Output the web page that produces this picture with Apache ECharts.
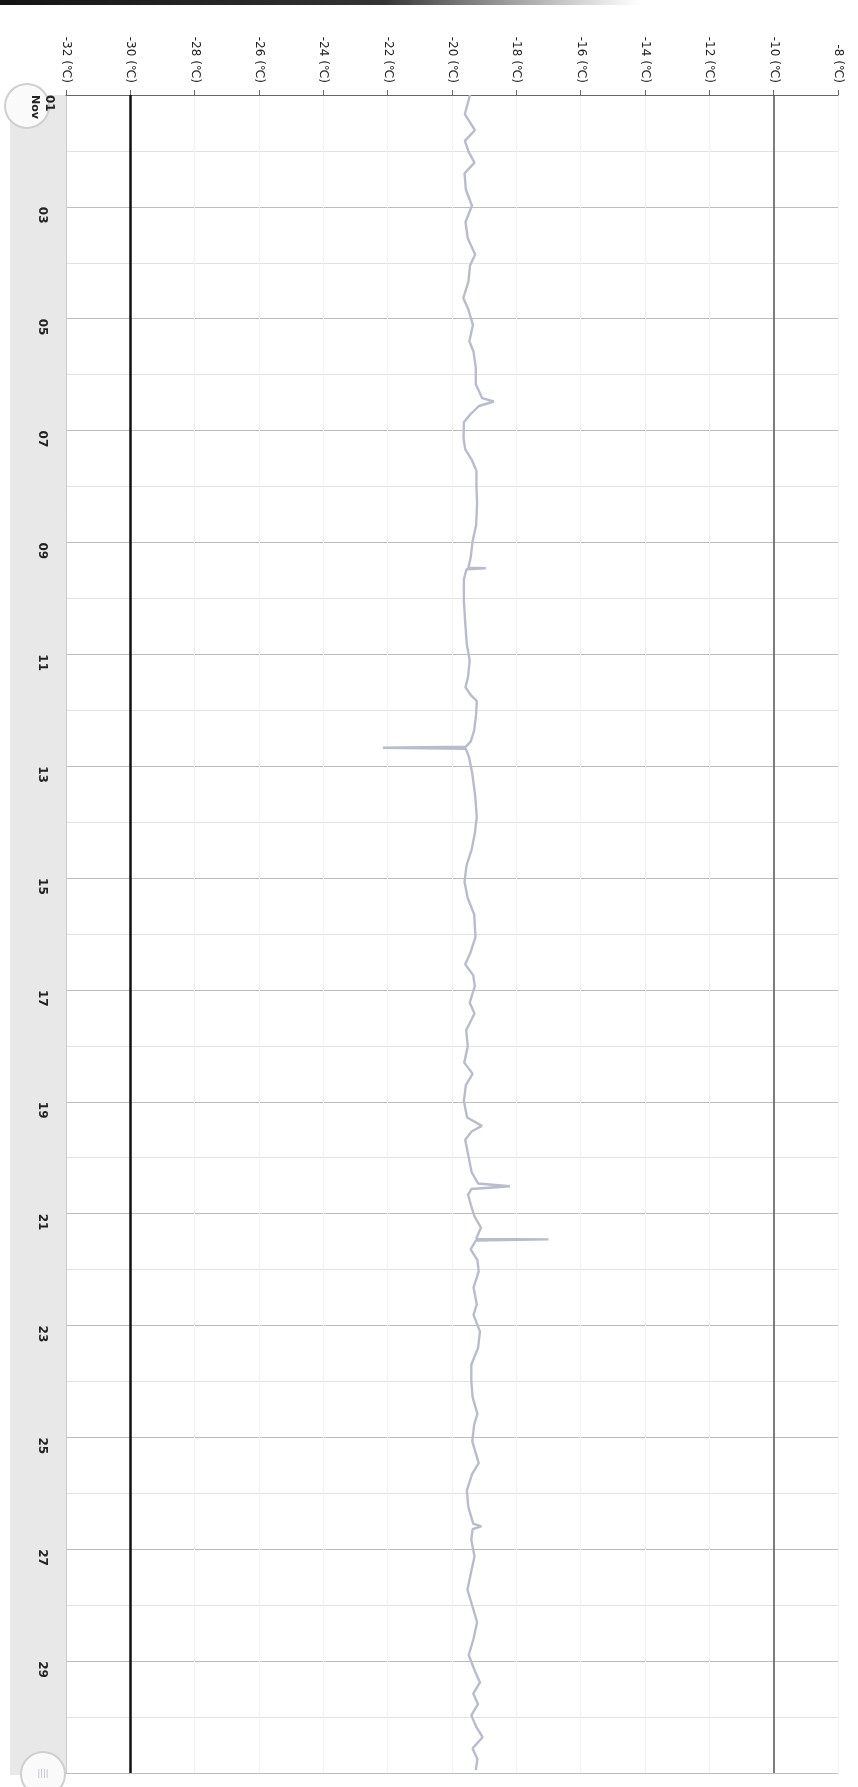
<!DOCTYPE html>
<html>
<head>
<meta charset="utf-8">
<script src="https://cdn.jsdelivr.net/npm/echarts@6/dist/echarts.min.js"></script>
<style>
html,body{margin:0;padding:0;background:#fff;}
#chart{width:858px;height:1787px;}
</style>
</head>
<body>
<div id="chart"></div>
<script>
// Temperature axis
var tempMin = -32, tempMax = -8, tempStep = 2;
var tempUnit = ' (℃)';
// Time axis (day of month, November)
var monthLabel = 'Nov';
var firstDay = 1, lastDay = 31;
// Limit lines
var lowLimit = -30, highLimit = -10;
// Logged series: day of month (fractional) and temperature
var days = [1.00,1.34,1.63,1.82,2.02,2.21,2.40,2.69,2.98,3.27,3.56,3.85,4.05,4.34,4.63,4.82,5.11,5.40,5.59,5.88,
6.17,6.42,6.48,6.56,6.71,6.85,7.14,7.33,7.53,7.72,8.01,8.30,8.69,8.98,9.27,9.45,9.46,9.48,9.66,10.04,
10.43,10.82,11.11,11.40,11.59,11.74,11.83,12.07,12.36,12.56,12.65,12.67,12.69,12.84,13.13,13.52,13.91,14.20,14.49,14.78,
15.07,15.36,15.65,16.05,16.34,16.54,16.74,16.93,17.23,17.42,17.72,18.01,18.30,18.50,18.70,18.99,19.28,19.43,19.53,19.68,
19.97,20.26,20.46,20.51,20.56,20.66,20.85,21.05,21.25,21.45,21.46,21.48,21.64,21.83,22.03,22.32,22.62,22.81,23.11,23.40,
23.70,23.99,24.28,24.58,24.77,25.07,25.46,25.66,25.95,26.25,26.54,26.59,26.64,26.83,27.13,27.42,27.72,28.01,28.30,28.60,
28.89,29.19,29.38,29.58,29.77,29.97,30.17,30.36,30.56,30.75,30.95];
var temps = [-19.44,-19.60,-19.29,-19.60,-19.48,-19.30,-19.61,-19.57,-19.38,-19.58,-19.51,-19.28,-19.44,-19.49,-19.65,-19.50,-19.35,-19.46,-19.33,-19.26,
-19.26,-19.06,-18.70,-19.16,-19.43,-19.63,-19.64,-19.59,-19.38,-19.24,-19.24,-19.22,-19.25,-19.36,-19.42,-19.49,-18.95,-19.55,-19.63,-19.63,
-19.59,-19.54,-19.45,-19.50,-19.58,-19.40,-19.23,-19.25,-19.31,-19.42,-19.57,-22.15,-19.57,-19.47,-19.37,-19.28,-19.23,-19.29,-19.39,-19.55,
-19.61,-19.51,-19.31,-19.27,-19.43,-19.59,-19.34,-19.29,-19.45,-19.30,-19.56,-19.51,-19.62,-19.36,-19.57,-19.63,-19.53,-19.07,-19.39,-19.59,
-19.49,-19.39,-19.19,-18.20,-19.40,-19.50,-19.41,-19.30,-19.10,-19.25,-17.00,-19.26,-19.42,-19.21,-19.17,-19.33,-19.23,-19.33,-19.13,-19.19,
-19.40,-19.40,-19.36,-19.21,-19.31,-19.37,-19.17,-19.38,-19.54,-19.49,-19.34,-19.09,-19.36,-19.40,-19.30,-19.41,-19.52,-19.37,-19.22,-19.33,
-19.48,-19.28,-19.13,-19.34,-19.19,-19.40,-19.25,-19.05,-19.36,-19.21,-19.26];

var hoursMax = (lastDay - firstDay) * 24;
var seriesData = days.map(function (d, i) { return [temps[i], (d - firstDay) * 24]; });

function pad(n) { return n < 10 ? '0' + n : '' + n; }

var chart = echarts.init(document.getElementById('chart'), null, {renderer: 'canvas'});
chart.setOption({
  animation: false,
  backgroundColor: '#ffffff',
  grid: {left: 66, right: 20, top: 95, bottom: 14, containLabel: false},
  graphic: [
    {type: 'rect', z: -1, shape: {x: 10, y: 95, width: 56, height: 1680}, style: {fill: '#e8e8e8'}},
    {type: 'circle', z: -1, shape: {cx: 27, cy: 106, r: 22}, style: {fill: '#fafafa', stroke: '#cfcfcf', lineWidth: 2}},
    {type: 'circle', z: -1, shape: {cx: 43, cy: 1774, r: 22}, style: {fill: '#fafafa', stroke: '#cfcfcf', lineWidth: 2}},
    {type: 'text', z: -1, style: {x: 43, y: 1774, text: '||||', fill: '#b8b8c8', font: '8px DejaVu Sans', align: 'center', verticalAlign: 'middle'}},
    {type: 'rect', z: -1, shape: {x: 0, y: 0, width: 640, height: 5},
      style: {fill: new echarts.graphic.LinearGradient(0, 0, 1, 0, [
        {offset: 0, color: 'rgba(20,20,20,1)'}, {offset: 0.6, color: 'rgba(30,30,30,0.9)'}, {offset: 1, color: 'rgba(60,60,60,0)'}])}}
  ],
  xAxis: {
    type: 'value', position: 'top',
    min: tempMin, max: tempMax, interval: tempStep,
    axisLine: {show: true, lineStyle: {color: '#666', width: 1.2}},
    axisTick: {show: true, inside: false, length: 5, lineStyle: {color: '#666'}},
    splitLine: {show: true, lineStyle: {color: '#f3f3f3', width: 1}},
    axisLabel: {
      rotate: -90, margin: 12, align: 'right', verticalAlign: 'middle',
      color: '#222', fontSize: 12, fontFamily: 'DejaVu Sans',
      formatter: function (v) { return v + tempUnit; }
    }
  },
  yAxis: {
    type: 'value', inverse: true,
    min: 0, max: hoursMax, interval: 48,
    axisLine: {show: true, lineStyle: {color: '#cccccc'}},
    axisTick: {show: false},
    minorTick: {show: false, splitNumber: 2},
    splitLine: {show: true, lineStyle: {color: '#bdbdbd', width: 1}},
    minorSplitLine: {show: true, lineStyle: {color: '#e2e2e2', width: 1}},
    axisLabel: {
      rotate: -90, margin: 24, align: 'left', verticalAlign: 'middle',
      color: '#222', fontSize: 12, fontWeight: 'bold', fontFamily: 'DejaVu Sans',
      formatter: function (v) {
        var d = Math.round(v / 24) + firstDay;
        if (d >= lastDay) return '';
        if (v === 0) return '{d|' + pad(d) + '}\n{m|' + monthLabel + '}';
        return pad(d);
      },
      rich: {
        d: {fontSize: 12, fontWeight: 'bold', fontFamily: 'DejaVu Sans', color: '#222', lineHeight: 14},
        m: {fontSize: 11, fontWeight: 'bold', fontFamily: 'DejaVu Sans', color: '#222', lineHeight: 14}
      }
    }
  },
  series: [{
    type: 'line',
    data: seriesData,
    showSymbol: false,
    lineStyle: {color: '#b9bccb', width: 2.4},
    z: 3,
    markLine: {
      silent: true, symbol: 'none', label: {show: false},
      data: [
        {xAxis: lowLimit, lineStyle: {color: '#111', width: 2.5, type: 'solid'}},
        {xAxis: highLimit, lineStyle: {color: '#555', width: 1.5, type: 'solid'}}
      ]
    }
  }]
});
</script>
</body>
</html>
